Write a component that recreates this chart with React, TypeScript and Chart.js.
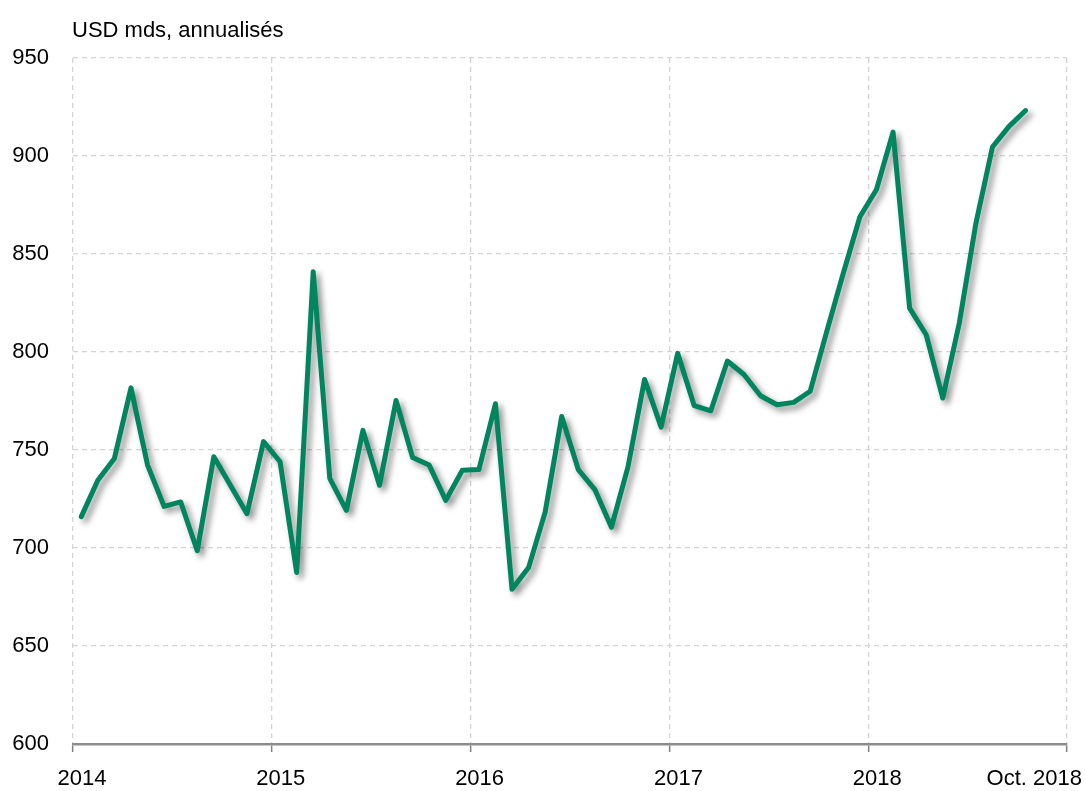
import React, { useEffect, useRef } from "react";
import { Chart, registerables } from "chart.js";

Chart.register(...registerables);

// Monthly series, Jan 2014 -> Oct 2018 (USD bn, annualised)
const values2014 = [716, 734.6, 745.7, 781.7, 742.3, 721.2, 723.5, 698.6, 746.6, 732, 717.5, 754.3];
const values2015 = [744, 687.5, 841, 735.5, 719.2, 760, 732, 775.3, 746.2, 742.3, 724.3, 739.7];
const values2016 = [740, 773.6, 679, 690, 718.3, 767.1, 740, 729.8, 710.6, 741.4, 786, 761.7];
const values2017 = [799.3, 772.6, 770, 795.4, 788.5, 777.7, 773.1, 774.3, 780, 810.5, 840.3, 869];
const values2018 = [882.9, 912.2, 822.4, 808.8, 776.5, 814.8, 865.6, 904.6, 915.1, 923.2];

const seriesValues = [...values2014, ...values2015, ...values2016, ...values2017, ...values2018];

// x axis: months since Jan 2014; ticks at year boundaries
const xTickPositions = [0, 12, 24, 36, 48, 60];
const xTickLabels = ["2014", "2015", "2016", "2017", "2018", "Oct. 2018"];
const yTicks = [600, 650, 700, 750, 800, 850, 900, 950];
const unitLabel = "USD mds, annualisés";

const FONT = "'Liberation Sans', Arial, sans-serif";
const LINE_COLOR = "#00855F";

export default function App() {
  const ref = useRef<HTMLCanvasElement | null>(null);

  useEffect(() => {
    if (!ref.current) return;
    const points = seriesValues.map((v, i) => ({ x: i + 0.5, y: v }));

    const shadowPlugin = {
      id: "lineShadow",
      beforeDatasetDraw(chart: any) {
        const ctx = chart.ctx;
        ctx.save();
        ctx.shadowColor = "rgba(0,0,0,0.45)";
        ctx.shadowBlur = 6;
        ctx.shadowOffsetX = 4;
        ctx.shadowOffsetY = 4;
      },
      afterDatasetDraw(chart: any) {
        chart.ctx.restore();
      },
    };

    const textPlugin = {
      id: "extraText",
      afterDraw(chart: any) {
        const ctx = chart.ctx;
        ctx.save();
        ctx.fillStyle = "#000";
        ctx.font = `22px ${FONT}`;
        ctx.textAlign = "left";
        ctx.textBaseline = "alphabetic";
        ctx.fillText(unitLabel, 72, 37);
        // last x label, kept inside the canvas (right-aligned)
        const xs = chart.scales.x;
        ctx.textAlign = "right";
        ctx.textBaseline = "middle";
        ctx.fillText(xTickLabels[xTickLabels.length - 1], chart.width - 3, xs.top + 8 + 14 + 13.2);
        ctx.restore();
      },
    };

    const chart = new Chart(ref.current, {
      type: "line",
      data: {
        datasets: [
          {
            data: points,
            borderColor: LINE_COLOR,
            borderWidth: 5,
            pointRadius: 0,
            tension: 0,
            fill: false,
            borderJoinStyle: "round",
            borderCapStyle: "round",
          },
        ],
      },
      options: {
        animation: false,
        responsive: false,
        events: [],
        layout: { padding: { top: 58, right: 18, left: 0, bottom: 0 } },
        plugins: {
          legend: { display: false },
          tooltip: { enabled: false },
          title: { display: false },
        },
        scales: {
          x: {
            type: "linear",
            min: 0,
            max: 60,
            afterBuildTicks(scale: any) {
              scale.ticks = xTickPositions.map((v) => ({ value: v }));
            },
            afterFit(scale: any) {
              scale.height = 47;
            },
            ticks: {
              autoSkip: false,
              maxRotation: 0,
              padding: 14,
              labelOffset: 9,
              color: "#000",
              font: { family: FONT, size: 22 },
              callback(value: any) {
                const idx = xTickPositions.indexOf(Number(value));
                if (idx < 0 || idx === xTickLabels.length - 1) return "";
                return xTickLabels[idx];
              },
            },
            grid: {
              color: "#d4d4d4",
              lineWidth: 1.3,
              drawTicks: true,
              tickLength: 8,
              tickColor: "#808080",
              tickWidth: 1.5,
              tickBorderDash: [],
            },
            border: { display: true, color: "#8c8c8c", width: 2.5, dash: [5, 4] },
          },
          y: {
            min: 600,
            max: 950,
            afterBuildTicks(scale: any) {
              scale.ticks = yTicks.map((v) => ({ value: v }));
            },
            afterFit(scale: any) {
              scale.width = 73;
            },
            ticks: {
              padding: 24,
              color: "#000",
              font: { family: FONT, size: 22 },
            },
            grid: {
              color: "#d4d4d4",
              lineWidth: 1.3,
              drawTicks: false,
            },
            border: { display: false, dash: [5, 4] },
          },
        },
      },
      plugins: [shadowPlugin, textPlugin],
    } as any);

    return () => chart.destroy();
  }, []);

  return (
    <div style={{ position: "absolute", left: 0, top: 0, width: 1085, height: 791, background: "#fff" }}>
      <canvas ref={ref} width={1085} height={791} style={{ display: "block" }} />
    </div>
  );
}
